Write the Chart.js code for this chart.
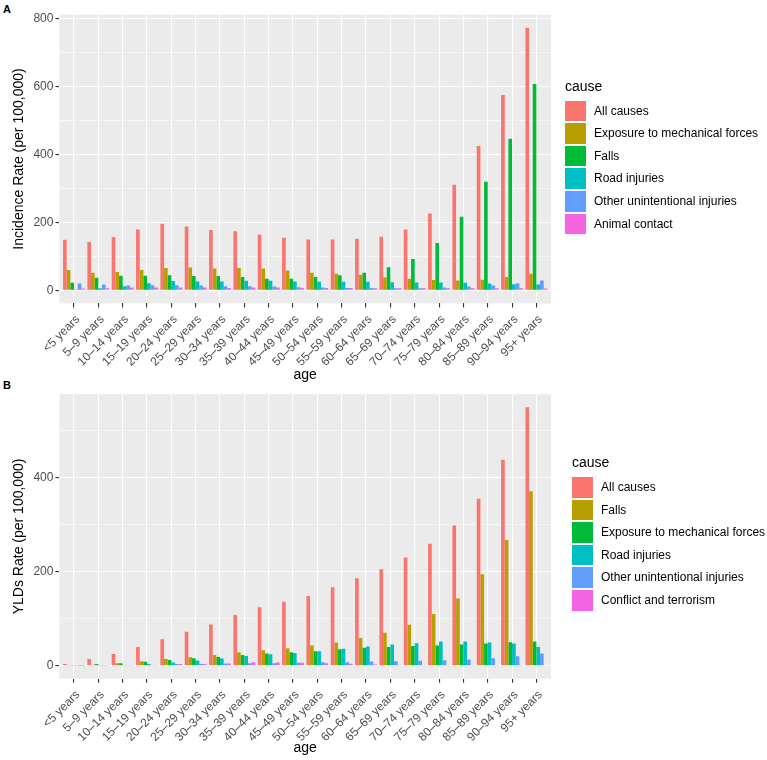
<!DOCTYPE html>
<html>
<head>
<meta charset="utf-8">
<script src="https://cdn.jsdelivr.net/npm/chart.js@4.4.1/dist/chart.umd.min.js"></script>
<style>
  body { margin: 0; background: #fff; font-family: "Liberation Sans", Arial, sans-serif; }
  #page { position: relative; width: 767px; height: 760px; overflow: hidden; }
  canvas { position: absolute; left: 0; }
  .tag { position: absolute; left: 3px; font-size: 11px; line-height: 11px; font-weight: bold; }
  .ttl { position: absolute; font-size: 14px; line-height: 14px; white-space: nowrap; color: #000; }
  .key { position: absolute; width: 21px; height: 20.5px; }
  .lab { position: absolute; font-size: 12px; line-height: 20.5px; white-space: nowrap; color: #000; }
</style>
</head>
<body>
<div id="page">
  <div class="tag" style="top:3.6px">A</div>
  <div class="tag" style="top:379.6px">B</div>
  <canvas id="panelA" width="767" height="385" style="top:0"></canvas>
  <canvas id="panelB" width="767" height="375" style="top:385px"></canvas>
</div>
<script>
// age groups shared by both panels
const ageGroups = ['<5 years', '5-9 years', '10-14 years', '15-19 years', '20-24 years',
  '25-29 years', '30-34 years', '35-39 years', '40-44 years', '45-49 years', '50-54 years',
  '55-59 years', '60-64 years', '65-69 years', '70-74 years', '75-79 years', '80-84 years',
  '85-89 years', '90-94 years', '95+ years'].map(s => s.replace('-', '\u2013'));

// Panel A: incidence rate per 100,000
const causesA = ['All causes', 'Exposure to mechanical forces', 'Falls', 'Road injuries',
  'Other unintentional injuries', 'Animal contact'];
const allCausesA = [149, 142, 157, 179, 196, 188, 178, 174, 164, 155, 150, 150, 152, 158, 179, 226, 311, 425, 576, 774];
const exposureA = [60, 52, 54, 60, 66, 67, 64, 66, 64, 58, 52, 49, 46, 38, 34, 30, 29, 31, 39, 49];
const fallsA = [22, 37, 43, 43, 44, 42, 42, 39, 34, 34, 39, 44, 52, 68, 92, 139, 217, 320, 447, 608];
const roadA = [2, 6, 12, 21, 27, 26, 26, 28, 28, 26, 25, 25, 25, 24, 23, 23, 22, 20, 18, 17];
const otherA = [20, 17, 14, 15, 15, 14, 12, 12, 11, 9, 8, 7, 7, 6, 6, 8, 11, 14, 21, 29];
const animalA = [5, 6, 8, 8, 8, 8, 7, 8, 8, 7, 7, 7, 6, 6, 6, 6, 6, 6, 6, 5];
const yMajorA = [0, 200, 400, 600, 800];
const yMinorA = [100, 300, 500, 700];

// Panel B: YLDs rate per 100,000
const causesB = ['All causes', 'Falls', 'Exposure to mechanical forces', 'Road injuries',
  'Other unintentional injuries', 'Conflict and terrorism'];
const allCausesB = [3.5, 14.6, 25, 39.7, 56.4, 72.4, 87.8, 108, 124, 136, 148, 166.5, 186, 205, 230, 259, 298, 354.6, 437.5, 549];
const fallsB = [0.7, 2, 5.6, 9.8, 14.6, 18, 23, 28.6, 32.7, 37, 43, 49.5, 59, 70, 87, 110, 143, 194, 267, 370.6];
const exposureB = [1.4, 3.5, 5.6, 8.4, 12.5, 16, 18.8, 23, 25.8, 28.6, 30.7, 34.8, 38, 39.7, 41.8, 43, 45, 47.4, 50, 51.5];
const roadB = [0.7, 1.4, 1.4, 3.5, 7, 11, 15.3, 21, 24.4, 27, 30.7, 36, 41, 45, 48, 51.5, 51.5, 49.5, 47.4, 39.7];
const otherB = [0.3, 1.4, 1.4, 1.4, 3.5, 4, 5, 5.6, 5.6, 6.3, 7.7, 7.7, 9, 9.8, 10.4, 11.8, 13.2, 16, 20, 25.8];
const conflictB = [0.2, 0.7, 1.4, 1.4, 3.5, 4, 5, 7.7, 7, 6.3, 5.6, 4.2, 2.8, 1.4, 1.4, 1.4, 1.4, 1.4, 1.4, 1];
const yMajorB = [0, 200, 400];
const yMinorB = [100, 300, 500];

// ggplot default hue palette for 6 groups
const hue6 = ['#F8766D', '#B79F00', '#00BA38', '#00BFC4', '#619CFF', '#F564E3'];
const fontFamily = '"Liberation Sans", Arial, sans-serif';

const panelBg = {
  id: 'panelBg',
  beforeDraw(chart) {
    const { ctx, chartArea: a } = chart;
    ctx.save();
    ctx.fillStyle = '#EBEBEB';
    ctx.fillRect(a.left, a.top, a.right - a.left, a.bottom - a.top);
    ctx.restore();
  }
};

// ggplot pads the data range by 5% on each side
function yLimits(series) {
  let top = 0;
  series.forEach(s => s.forEach(v => { if (v > top) top = v; }));
  return [-0.05 * top, top * 1.05];
}

function drawPanel(canvasId, causes, series, yMajor, yMinor, yTitle, lay) {
  const lim = yLimits(series);
  const isMajor = c => c.tick && yMajor.includes(c.tick.value);
  return new Chart(document.getElementById(canvasId), {
    type: 'bar',
    data: {
      datasets: series.map((vals, k) => ({
        label: causes[k],
        data: vals.map((v, i) => ({ x: i, y: v })),
        backgroundColor: hue6[k],
        borderWidth: 0,
        categoryPercentage: 0.9,
        barPercentage: 1
      }))
    },
    options: {
      responsive: false,
      devicePixelRatio: 1,
      animation: false,
      events: [],
      layout: { padding: { top: lay.top, right: 216, left: 0, bottom: 0 } },
      plugins: { legend: { display: false }, tooltip: { enabled: false } },
      scales: {
        x: {
          type: 'linear',
          offset: false,
          min: -0.6,
          max: ageGroups.length - 0.4,
          afterBuildTicks: s => { s.ticks = ageGroups.map((g, i) => ({ value: i })); },
          afterFit: s => { s.height = lay.xHeight; },
          border: { display: false },
          grid: { offset: false, color: '#FFFFFF', lineWidth: 1.1, tickLength: 4, tickColor: '#333333', tickWidth: 1.1 },
          ticks: {
            autoSkip: false, minRotation: 45, maxRotation: 45,
            color: '#4D4D4D', font: { size: 12, family: fontFamily },
            padding: 5, labelOffset: 4,
            callback: v => ageGroups[v]
          },
          title: {
            display: true, text: 'age', color: '#000000',
            font: { size: 14, family: fontFamily },
            padding: { top: 0, bottom: lay.agePad }
          }
        },
        y: {
          min: lim[0],
          max: lim[1],
          afterBuildTicks: s => {
            s.ticks = yMajor.concat(yMinor).sort((a, b) => a - b).map(v => ({ value: v }));
          },
          afterFit: s => { s.width = 59.4; },
          border: { display: false },
          grid: {
            color: '#FFFFFF',
            lineWidth: c => isMajor(c) ? 1.1 : 0.55,
            tickLength: 4,
            tickColor: c => isMajor(c) ? '#333333' : 'rgba(0,0,0,0)',
            tickWidth: 1.1
          },
          ticks: {
            color: '#4D4D4D', font: { size: 12, family: fontFamily }, padding: 2,
            callback: v => yMajor.includes(v) ? String(v) : ''
          },
          title: {
            display: true, text: yTitle, color: '#000000',
            font: { size: 14, family: fontFamily },
            padding: { top: 11, bottom: 0 }
          }
        }
      }
    },
    plugins: [panelBg]
  });
}

function drawLegend(causes, left, boxTop) {
  const page = document.getElementById('page');
  const t = document.createElement('div');
  t.className = 'ttl';
  t.textContent = 'cause';
  t.style.left = left + 'px';
  t.style.top = (boxTop - 21.9) + 'px';
  page.appendChild(t);
  causes.forEach((name, k) => {
    const top = boxTop + k * 22.6;
    const key = document.createElement('div');
    key.className = 'key';
    key.style.left = left + 'px';
    key.style.top = top + 'px';
    key.style.background = hue6[k];
    page.appendChild(key);
    const lab = document.createElement('div');
    lab.className = 'lab';
    lab.textContent = name;
    lab.style.left = (left + 29) + 'px';
    lab.style.top = top + 'px';
    page.appendChild(lab);
  });
}

drawPanel('panelA', causesA, [allCausesA, exposureA, fallsA, roadA, otherA, animalA],
  yMajorA, yMinorA, 'Incidence Rate (per 100,000)', { top: 14.6, xHeight: 81.6, agePad: 1.6 });
drawPanel('panelB', causesB, [allCausesB, fallsB, exposureB, roadB, otherB, conflictB],
  yMajorB, yMinorB, 'YLDs Rate (per 100,000)', { top: 6.9, xHeight: 81.3, agePad: 3.6 });

drawLegend(causesA, 565, 100.6);
drawLegend(causesB, 572, 477);
</script>
</body>
</html>
